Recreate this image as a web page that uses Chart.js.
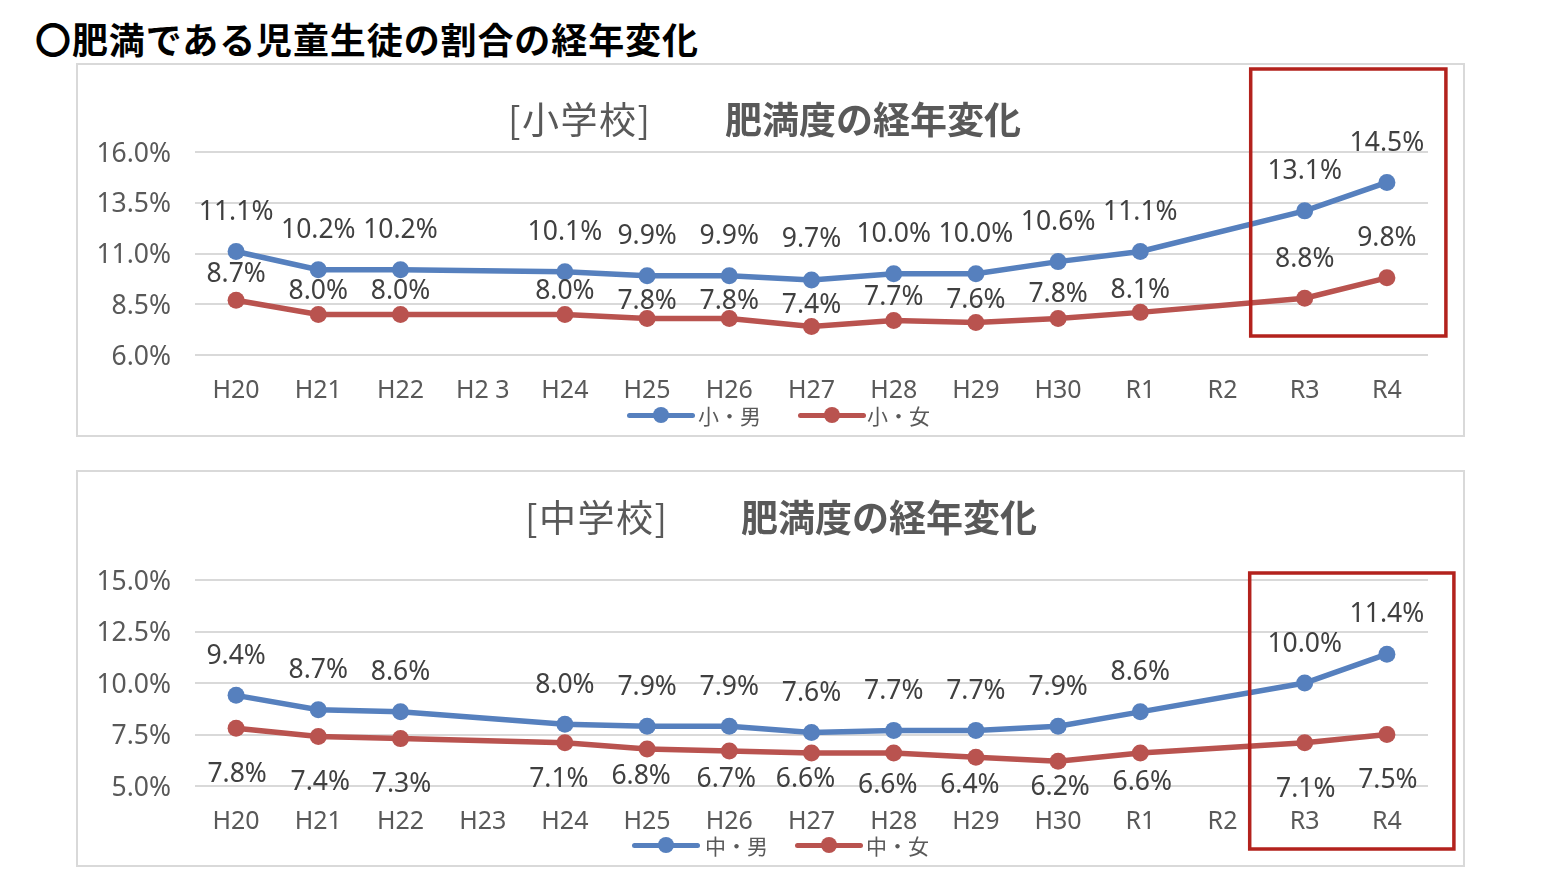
<!DOCTYPE html>
<html>
<head>
<meta charset="utf-8">
<script src="https://cdn.jsdelivr.net/npm/chart.js@4.4.0/dist/chart.umd.min.js"></script>
<style>
html,body{margin:0;padding:0;background:#fff;}
body{width:1562px;height:882px;overflow:hidden;position:relative;font-family:"Noto Sans CJK JP","Noto Sans",sans-serif;}
.main-title{position:absolute;left:35px;top:13px;font-size:36px;font-weight:bold;color:#000;white-space:nowrap;line-height:50px;letter-spacing:0.9px;}
.panel{position:absolute;left:76px;width:1389px;box-sizing:border-box;border:2px solid #d9d9d9;pointer-events:none;}
canvas{position:absolute;left:76px;}
.ct{position:absolute;white-space:nowrap;font-size:37px;line-height:44px;color:#595959;}
.ct b{font-weight:bold;}
.legend{position:absolute;display:flex;align-items:center;white-space:nowrap;font-size:21px;color:#595959;height:26px;}
.sym{position:relative;display:inline-block;width:68px;height:26px;}
.sym::before{content:"";position:absolute;left:0;right:0;top:10.5px;height:5px;border-radius:2.5px;background:var(--c);}
.sym::after{content:"";position:absolute;left:26px;top:5px;width:16px;height:16px;border-radius:50%;background:var(--c);}
</style>
</head>
<body>
<div class="main-title">〇肥満である児童生徒の割合の経年変化</div>

<canvas id="c1" width="1389" height="374" style="top:63px;width:1389px;height:374px;"></canvas>
<div class="panel" style="top:63px;height:374px;"></div>
<div class="ct" style="left:508px;top:96px;letter-spacing:1.5px;">[小学校]</div>
<div class="ct" style="left:725px;top:96px;"><b>肥満度の経年変化</b></div>
<div class="legend" style="left:627px;top:402px;">
  <span class="sym" style="--c:#5680be"></span><span style="margin-left:3px">小・男</span>
  <span class="sym" style="--c:#b9534f;margin-left:37px"></span><span style="margin-left:1px">小・女</span>
</div>

<canvas id="c2" width="1389" height="397" style="top:470px;width:1389px;height:397px;"></canvas>
<div class="panel" style="top:470px;height:397px;"></div>
<div class="ct" style="left:525px;top:494px;letter-spacing:1.5px;">[中学校]</div>
<div class="ct" style="left:741px;top:494px;"><b>肥満度の経年変化</b></div>
<div class="legend" style="left:632px;top:832px;">
  <span class="sym" style="--c:#5680be"></span><span style="margin-left:5px">中・男</span>
  <span class="sym" style="--c:#b9534f;margin-left:27px"></span><span style="margin-left:3px">中・女</span>
</div>

<script>
// ---- data ----
const elemLabels = ['H20','H21','H22','H2 3','H24','H25','H26','H27','H28','H29','H30','R1','R2','R3','R4'];
const juniorLabels = ['H20','H21','H22','H23','H24','H25','H26','H27','H28','H29','H30','R1','R2','R3','R4'];
const elemBoys   = [11.1,10.2,10.2,null,10.1,9.9,9.9,9.7,10.0,10.0,10.6,11.1,null,13.1,14.5];
const elemGirls  = [8.7,8.0,8.0,null,8.0,7.8,7.8,7.4,7.7,7.6,7.8,8.1,null,8.8,9.8];
const juniorBoys = [9.4,8.7,8.6,null,8.0,7.9,7.9,7.6,7.7,7.7,7.9,8.6,null,10.0,11.4];
const juniorGirls= [7.8,7.4,7.3,null,7.1,6.8,6.7,6.6,6.6,6.4,6.2,6.6,null,7.1,7.5];
const elemTicks = {min:6.0, max:16.0, step:2.5};
const juniorTicks = {min:5.0, max:15.0, step:2.5};

// ---- label placement (layout only) ----
const elemBoysDy   = [-40,-40,-40,0,-40,-40,-40,-41,-40,-40,-40,-40,0,-40,-40];
const elemGirlsDy  = [-27,-24,-24,0,-24,-18,-18,-22,-24,-23,-25,-23,0,-40,-40];
const juniorBoysDy = [-40,-40,-40,0,-40,-40,-40,-40,-40,-40,-40,-40,0,-40,-41];
const juniorGirlsDy= [45,45,45,0,36,27,27,25,31,27,25,28,0,46,45];
const juniorGirlsDx= [1,2,1,0,-6,-6,-3,-6,-6,-6,2,2,0,1,1];

const BLUE = '#5680be', RED = '#b9534f';
const NUMFONT = '"Noto Sans", "DejaVu Sans", sans-serif';

const labelPlugin = {
  id: 'valLabels',
  afterDatasetsDraw(chart) {
    const ctx = chart.ctx;
    ctx.save();
    ctx.font = '26.5px ' + NUMFONT;
    ctx.fillStyle = '#404040';
    ctx.textAlign = 'center';
    ctx.textBaseline = 'middle';
    chart.data.datasets.forEach((ds, i) => {
      const meta = chart.getDatasetMeta(i);
      meta.data.forEach((pt, j) => {
        const v = ds.data[j];
        if (v === null || v === undefined) return;
        const dx = ds.labelDx ? ds.labelDx[j] : 0;
        const dy = ds.labelDy[j];
        ctx.fillText(v.toFixed(1) + '%', pt.x + dx, pt.y + dy + 1);
      });
    });
    ctx.restore();
  }
};

const boxPlugin = {
  id: 'hiBox',
  afterDraw(chart, args, opts) {
    const xs = chart.scales.x;
    const ctx = chart.ctx;
    const l = xs.getPixelForValue(opts.from) - opts.padL;
    const r = xs.getPixelForValue(opts.to) + opts.padR;
    ctx.save();
    ctx.strokeStyle = '#b3221d';
    ctx.lineWidth = 3.5;
    ctx.strokeRect(l, opts.top, r - l, opts.bottom - opts.top);
    ctx.restore();
  }
};

function makeChart(id, labels, boys, girls, boysDy, girlsDy, girlsDx, ticks, padTop, xHeight, box) {
  return new Chart(document.getElementById(id), {
    type: 'line',
    data: {
      labels: labels,
      datasets: [
        {data: boys, borderColor: BLUE, backgroundColor: BLUE, borderWidth: 5.5,
         pointRadius: 8.5, pointHoverRadius: 8.5, pointBackgroundColor: BLUE, pointBorderWidth: 0,
         spanGaps: true, tension: 0, labelDy: boysDy},
        {data: girls, borderColor: RED, backgroundColor: RED, borderWidth: 5.5,
         pointRadius: 8.5, pointHoverRadius: 8.5, pointBackgroundColor: RED, pointBorderWidth: 0,
         spanGaps: true, tension: 0, labelDy: girlsDy, labelDx: girlsDx}
      ]
    },
    options: {
      responsive: false,
      animation: false,
      devicePixelRatio: 1,
      layout: {padding: {top: padTop, right: 37, left: 0, bottom: 0}},
      plugins: {
        legend: {display: false},
        tooltip: {enabled: false},
        title: {display: false},
        hiBox: box
      },
      scales: {
        x: {
          offset: true,
          grid: {display: false, drawTicks: false},
          border: {display: false},
          ticks: {color: '#595959', font: {family: NUMFONT, size: 25}, padding: 21, maxRotation: 0, autoSkip: false},
          afterFit(s) { s.height = xHeight; }
        },
        y: {
          min: ticks.min, max: ticks.max,
          grid: {color: '#d9d9d9', lineWidth: 2, drawTicks: false},
          border: {display: false},
          ticks: {stepSize: ticks.step, color: '#595959', font: {family: NUMFONT, size: 26.5}, padding: 24,
                  labelOffset: 2, callback: v => v.toFixed(1) + '%'},
          afterFit(s) { s.width = 119; }
        }
      }
    },
    plugins: [labelPlugin, boxPlugin]
  });
}

makeChart('c1', elemLabels, elemBoys, elemGirls, elemBoysDy, elemGirlsDy, null, elemTicks, 89, 82,
  {from: 13, to: 14, padL: 54, padR: 59, top: 6, bottom: 273});
makeChart('c2', juniorLabels, juniorBoys, juniorGirls, juniorBoysDy, juniorGirlsDy, juniorGirlsDx, juniorTicks, 110, 81,
  {from: 13, to: 14, padL: 55, padR: 67, top: 103, bottom: 379});
</script>
</body>
</html>
